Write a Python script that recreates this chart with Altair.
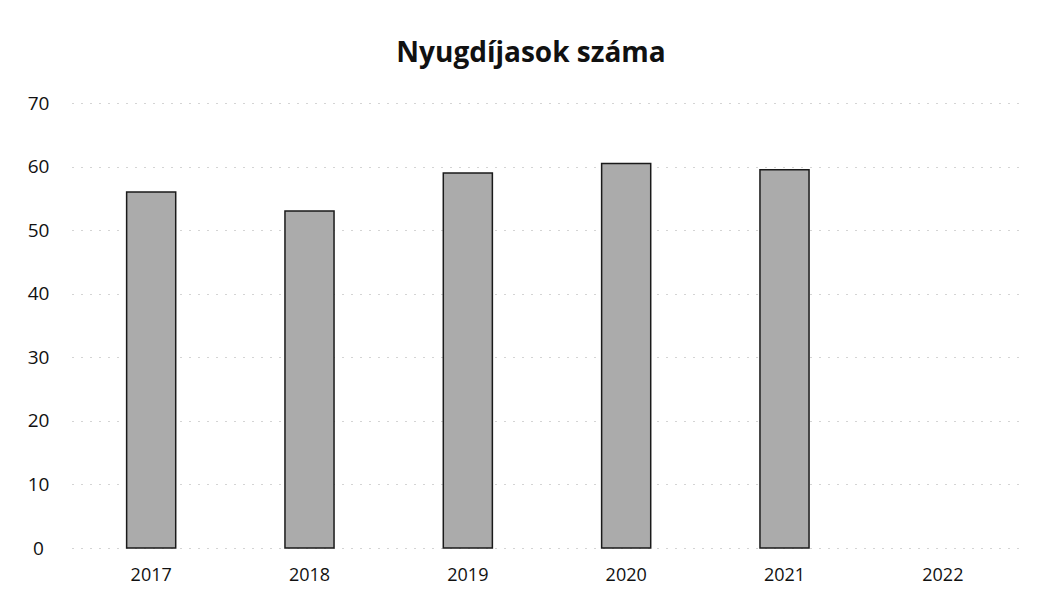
import altair as alt
import pandas as pd

years = ["2017", "2018", "2019", "2020", "2021", "2022"]
values = [56, 53, 59, 60.5, 59.5, None]

df = pd.DataFrame({"year": years, "value": values})
df_bars = df.dropna()

FONT = "Open Sans"

bars = alt.Chart(df_bars).mark_bar(
    fill="#ababab", stroke="#1a1a1a", strokeWidth=1.5
).encode(
    x=alt.X("year:N", sort=years,
            scale=alt.Scale(domain=years, paddingInner=0.69, paddingOuter=0.345),
            axis=alt.Axis(title=None, labelAngle=0, labelFontSize=18, labelColor="#111",
                          labelFont=FONT, domain=False, ticks=False, labelPadding=18, grid=False)),
    y=alt.Y("value:Q",
            scale=alt.Scale(domain=[0, 70]),
            axis=alt.Axis(title=None, values=[0, 10, 20, 30, 40, 50, 60, 70], labelFontSize=19,
                          labelColor="#111", labelFont=FONT, domain=False, ticks=False,
                          labelAlign="center", labelPadding=34,
                          grid=True, gridColor="#a8a8a8", gridDash=[1, 8],
                          gridWidth=1)),
)

chart = bars.properties(
    width=950, height=445,
    background="white",
    title=alt.TitleParams("Nyugdíjasok száma", fontSize=28, font=FONT, fontWeight="bold",
                          color="#111", anchor="middle", offset=26, dx=-16),
    autosize=alt.AutoSizeParams(type="none"),
    padding={"left": 64, "top": 95, "right": 10, "bottom": 42},
).configure_view(strokeWidth=0, stroke="transparent")

chart.save("out.html", embed_options={"renderer": "svg", "actions": False})
